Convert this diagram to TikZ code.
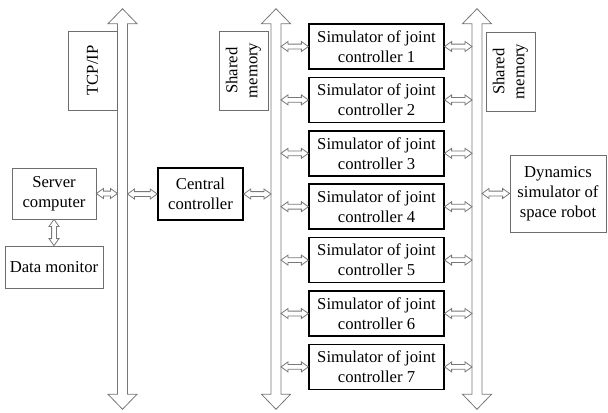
\documentclass[tikz,border=0pt]{standalone}
\usepackage{fontspec}
\setmainfont{Liberation Serif}
\usepackage{tikz}
\usetikzlibrary{positioning,calc}
\definecolor{linegray}{RGB}{120,120,120}
\definecolor{boxgray}{RGB}{110,110,110}

% hollow bus arrow drawn round an invisible shaft node
\newcommand{\drawbus}[1]{%
  \draw[busline] (#1.south west) -- (#1.north west) -- ++(-9.5,0) -- ($(#1.north)+(0,-15)$)
    -- ($(#1.north east)+(9.5,0)$) -- (#1.north east) -- (#1.south east) -- ++(9.5,0)
    -- ($(#1.south)+(0,15)$) -- ($(#1.south west)+(-9.5,0)$) -- cycle;}

\begin{document}
\begin{tikzpicture}[
        x=0.75pt, y=-0.75pt,
        font=\fontsize{12.5}{15}\selectfont,
        thinbox/.style={draw=boxgray, line width=0.6pt, inner sep=1pt, align=center},
        jointbox/.style={draw=black, line width=1.2pt, minimum width=101pt, minimum height=33.75pt, inner sep=1pt, align=center},
        labelbox/.style={thinbox, minimum width=59.25pt, minimum height=36.75pt, rotate=90},
        shaft/.style={inner sep=0pt, minimum width=7.1pt, minimum height=277.5pt},
        busline/.style={draw=linegray, line width=0.6pt, fill=white},
        link/.style={draw=linegray, line width=0.6pt, fill=white,
            to path={(\tikztostart)
                -- ($($(\tikztostart)!5.25pt!(\tikztotarget)$)!3.75pt!90:(\tikztotarget)$)
                -- ($($(\tikztostart)!5.25pt!(\tikztotarget)$)!1.8pt!90:(\tikztotarget)$)
                -- ($($(\tikztotarget)!5.25pt!(\tikztostart)$)!1.8pt!-90:(\tikztostart)$)
                -- ($($(\tikztotarget)!5.25pt!(\tikztostart)$)!3.75pt!-90:(\tikztostart)$)
                -- (\tikztotarget)
                -- ($($(\tikztotarget)!5.25pt!(\tikztostart)$)!3.75pt!90:(\tikztostart)$)
                -- ($($(\tikztotarget)!5.25pt!(\tikztostart)$)!1.8pt!90:(\tikztostart)$)
                -- ($($(\tikztostart)!5.25pt!(\tikztotarget)$)!1.8pt!-90:(\tikztotarget)$)
                -- ($($(\tikztostart)!5.25pt!(\tikztotarget)$)!3.75pt!-90:(\tikztotarget)$)
                -- cycle}}
    ]
        \useasboundingbox (0,0) rectangle (608,412);

        % Buses
        \node[shaft] (tcp) at (122.5, 209) {};
        \node[shaft] (shmleft) at (276, 209) {};
        \node[shaft] (shmright) at (477, 209) {};
        \drawbus{tcp}
        \drawbus{shmleft}
        \drawbus{shmright}

        % Bus labels
        \node[labelbox] (tcplabel) at (92.5, 70.5) {TCP/IP};
        \node[labelbox] (shmleftlabel) at (243.5, 70.5) {Shared\\memory};
        \node[labelbox] (shmrightlabel) at (510.5, 71.5) {Shared\\memory};

        % Host side
        \node[thinbox, minimum width=63pt, minimum height=38.25pt] (server) at (54, 193.5) {Server\\computer};
        \node[thinbox, minimum width=73.5pt, minimum height=31.5pt] (monitor) at (54, 267) {Data monitor};
        \node[jointbox, minimum width=63.75pt, minimum height=39pt] (central) at (200.5, 194) {Central\\controller};

        % Dynamics simulator
        \node[thinbox, minimum width=72pt, minimum height=57.75pt] (dyn) at (558, 193.5) {Dynamics\\simulator of\\space robot};

        % Joint controller simulators
        \foreach \i in {1,...,7} {
            \node[jointbox] (joint\i) at (376.5, {46.5+53.4*(\i-1)}) {Simulator of joint\\controller \i};
            \draw[link] (joint\i.west -| shmleft.east) to (joint\i.west);
            \draw[link] (joint\i.east) to (joint\i.east -| shmright.west);
        }

        % Connecting links
        \draw[link] (server.south) to (monitor.north);
        \draw[link] (server.east) to (server.east -| tcp.west);
        \draw[link] (central.west -| tcp.east) to (central.west);
        \draw[link] (central.east) to (central.east -| shmleft.west);
        \draw[link] (dyn.west -| shmright.east) to (dyn.west);
    \end{tikzpicture}
\end{document}
